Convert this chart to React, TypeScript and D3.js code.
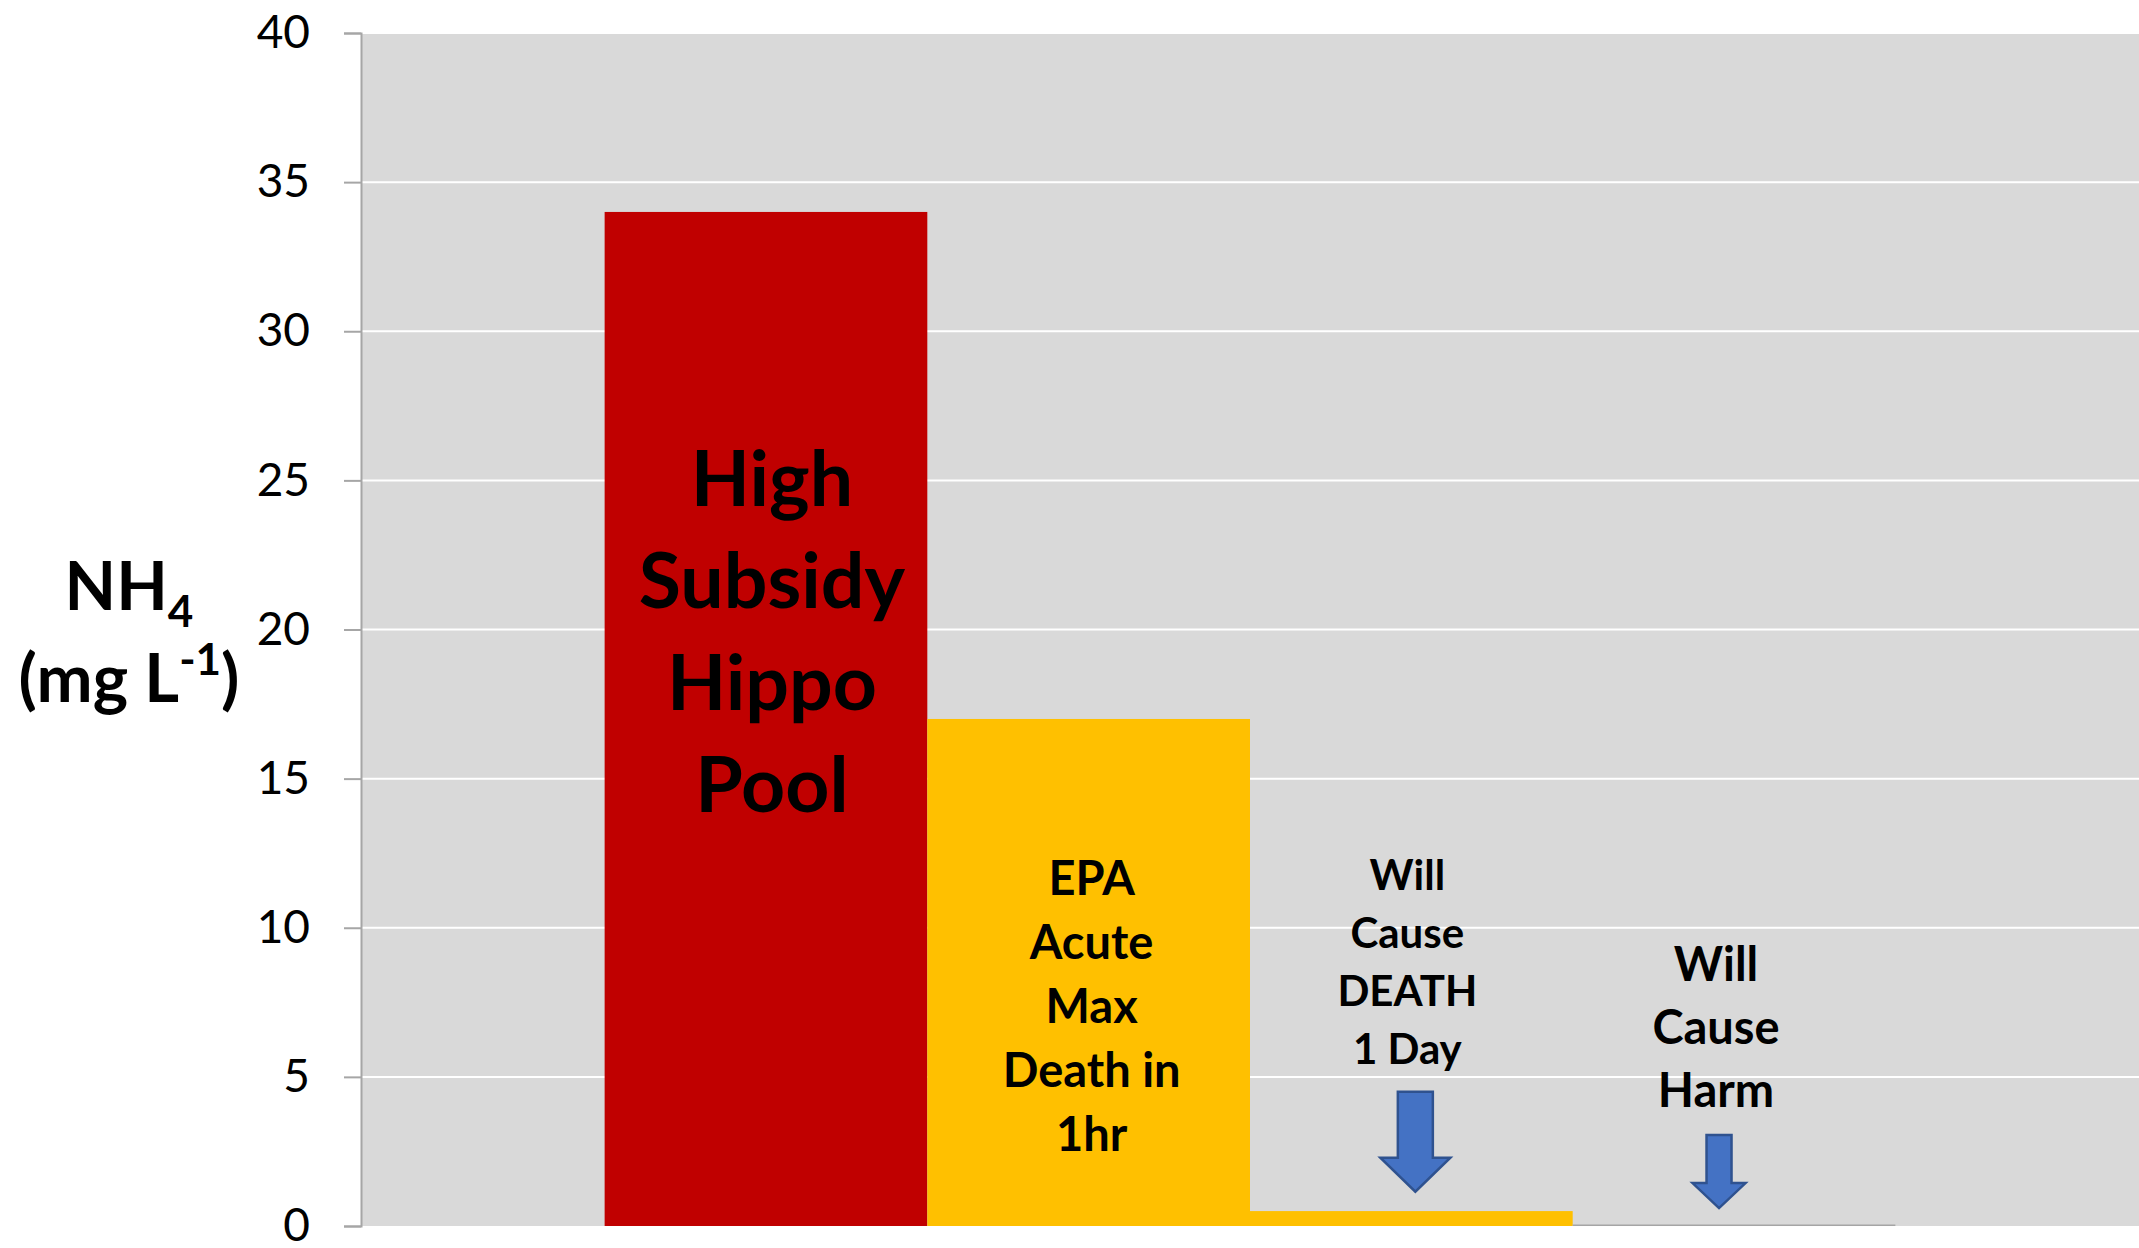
import React, { useEffect, useRef } from 'react';
import * as d3 from 'd3';

// chart data
const categories = ['High Subsidy Hippo Pool', 'EPA Acute Max Death in 1hr', 'Will Cause DEATH 1 Day', 'Will Cause Harm'];
const values = [34, 17, 0.5, 0.05];
const barColors = ['#c00000', '#ffc000', '#ffc000', '#a5a5a5'];
const yTicks = [0, 5, 10, 15, 20, 25, 30, 35, 40];
const labelLines = [
  ['High', 'Subsidy', 'Hippo', 'Pool'],
  ['EPA', 'Acute', 'Max', 'Death in', '1hr'],
  ['Will', 'Cause', 'DEATH', '1 Day'],
  ['Will', 'Cause', 'Harm'],
];
// down arrows (from value -> to value) under the last two labels
const arrowCats = [2, 3];
const arrowFrom = [4.5, 3.05];
const arrowTo = [1.15, 0.6];

const W = 2139;
const H = 1248;

const App = () => {
  const svgRef = useRef<SVGSVGElement>(null);

  useEffect(() => {
    const svg = d3.select(svgRef.current);
    svg.selectAll('*').remove();

    const left = 361, right = W, top = 33, bottom = 1226;

    const x = d3.scaleBand<string>()
      .domain(categories)
      .range([left, right])
      .paddingInner(0)
      .paddingOuter(0.755);

    const y = d3.scaleLinear().domain([0, 40]).range([bottom, top]);

    // plot area
    svg.append('rect')
      .attr('x', left).attr('y', top)
      .attr('width', right - left).attr('height', bottom - top)
      .attr('fill', '#d9d9d9');

    // gridlines
    svg.append('g')
      .selectAll('line')
      .data(yTicks.filter(d => d > 0))
      .enter().append('line')
      .attr('x1', left).attr('x2', right)
      .attr('y1', d => y(d)).attr('y2', d => y(d))
      .attr('stroke', '#ffffff')
      .attr('stroke-width', 2);

    // bars
    svg.append('g')
      .selectAll('rect')
      .data(values)
      .enter().append('rect')
      .attr('x', (d, i) => x(categories[i])!)
      .attr('y', d => y(d))
      .attr('width', x.bandwidth())
      .attr('height', d => Math.max(1.5, y(0) - y(d)))
      .attr('fill', (d, i) => barColors[i]);

    // y axis
    const axis = svg.append('g')
      .attr('transform', `translate(${left},0)`)
      .call(d3.axisLeft(y).tickValues(yTicks).tickSize(17).tickPadding(34).tickFormat(d3.format('d')));
    axis.select('.domain').attr('stroke', '#a6a6a6').attr('stroke-width', 2);
    axis.selectAll('.tick line').attr('stroke', '#a6a6a6').attr('stroke-width', 2);
    axis.selectAll('.tick text')
      .attr('font-family', 'Lato, sans-serif')
      .attr('font-size', 46)
      .attr('fill', '#000');

    // axis title
    const title = svg.append('text')
      .attr('font-family', 'Lato, sans-serif')
      .attr('font-weight', 'bold')
      .attr('font-size', 67)
      .attr('text-anchor', 'middle')
      .attr('fill', '#000');
    const t1 = title.append('tspan').attr('x', 129).attr('y', 610);
    t1.append('tspan').text('NH');
    t1.append('tspan').attr('font-size', 44).attr('dy', 17).text('4');
    const t2 = title.append('tspan').attr('x', 129).attr('y', 702);
    t2.append('tspan').text('(mg L');
    t2.append('tspan').attr('font-size', 44).attr('dy', -27).text('-1');
    t2.append('tspan').attr('dy', 27).text(')');

    // bar labels
    const labelStyle = [
      { first: 506, step: 102, size: 77, dx: 6 },
      { first: 895, step: 64, size: 47, dx: 3 },
      { first: 890, step: 58, size: 42, dx: -4 },
      { first: 981, step: 63, size: 47, dx: -18 },
    ];
    labelLines.forEach((lines, i) => {
      const s = labelStyle[i];
      const cx = x(categories[i])! + x.bandwidth() / 2 + s.dx;
      svg.append('g')
        .selectAll('text')
        .data(lines)
        .enter().append('text')
        .attr('x', cx)
        .attr('y', (d, j) => s.first + j * s.step)
        .attr('text-anchor', 'middle')
        .attr('font-family', 'Lato, sans-serif')
        .attr('font-weight', 'bold')
        .attr('font-size', s.size)
        .attr('fill', '#000')
        .text(d => d);
    });

    // arrows
    const arrowSize = [
      { dx: 4, shaft: 17.5, head: 35, headLen: 34 },
      { dx: -15, shaft: 12.5, head: 26.5, headLen: 25 },
    ];
    arrowCats.forEach((c, i) => {
      const a = arrowSize[i];
      const cx = x(categories[c])! + x.bandwidth() / 2 + a.dx;
      const y0 = y(arrowFrom[i]);
      const y1 = y(arrowTo[i]);
      const ys = y1 - a.headLen;
      const pts: [number, number][] = [
        [cx - a.shaft, y0], [cx + a.shaft, y0], [cx + a.shaft, ys], [cx + a.head, ys],
        [cx, y1], [cx - a.head, ys], [cx - a.shaft, ys],
      ];
      svg.append('path')
        .attr('d', d3.line()(pts) + 'Z')
        .attr('fill', '#4472c4')
        .attr('stroke', '#2f528f')
        .attr('stroke-width', 2.5)
        .attr('stroke-linejoin', 'miter');
    });
  }, []);

  return (
    <svg ref={svgRef} width={W} height={H} style={{ position: 'absolute', left: 0, top: 0, background: '#fff' }}></svg>
  );
};

export default App;
